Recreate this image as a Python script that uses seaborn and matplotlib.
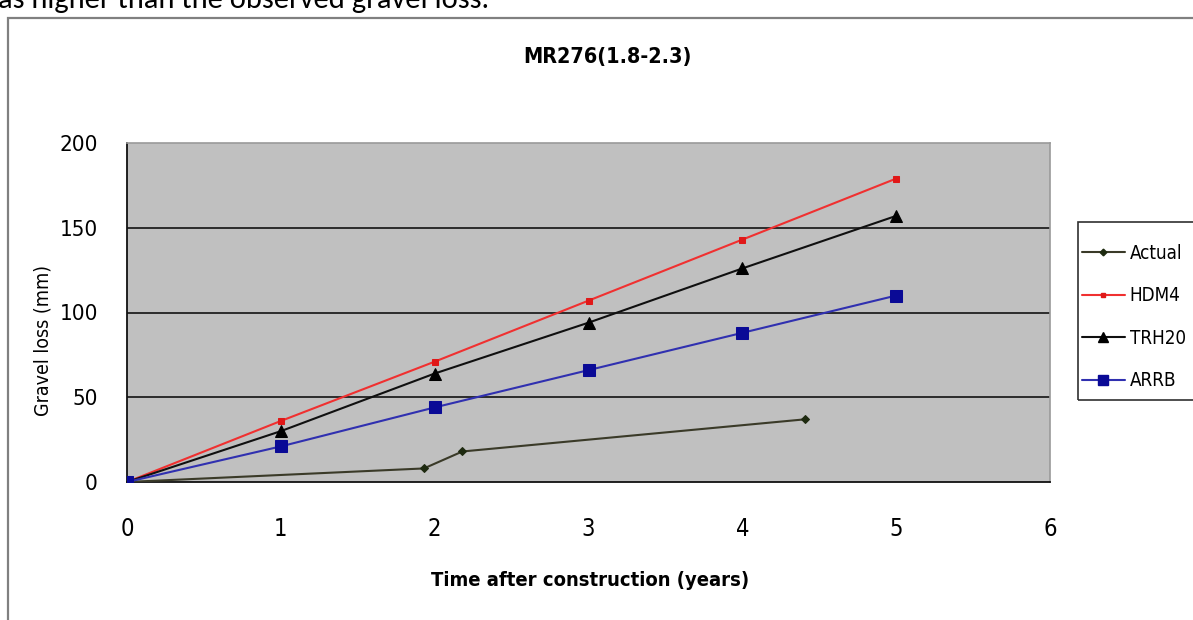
import matplotlib
matplotlib.use("Agg")
import matplotlib.pyplot as plt
from matplotlib.patches import Rectangle
from matplotlib.lines import Line2D
from matplotlib import font_manager
import seaborn as sns
import pandas as pd

# Gravel loss observations and model predictions
years_model = [0, 1, 2, 3, 4, 5]
hdm4 = [0, 36, 71, 107, 143, 179]
trh20 = [0, 30, 64, 94, 126, 157]
arrb = [0, 21, 44, 66, 88, 110]

years_actual = [0, 1.93, 2.18, 4.41]
actual = [0, 8, 18, 37]

title = "MR276(1.8-2.3)"
xlabel = "Time after construction (years)"
ylabel = "Gravel loss (mm)"
x_ticks = [0, 1, 2, 3, 4, 5, 6]
y_ticks = [0, 50, 100, 150, 200]
caption = "as higher than the observed gravel loss."

sns.set_theme(style="white")

# prefer a narrow sans face when one is available
narrow = None
for f in font_manager.fontManager.ttflist:
    if f.name in ("Liberation Sans Narrow", "Arial Narrow") or (
            f.name == "DejaVu Sans" and "Condensed" in f.fname and "Bold" not in f.fname
            and "Oblique" not in f.fname):
        narrow = f.name
        break
plt.rcParams["font.family"] = [narrow or "Liberation Sans", "DejaVu Sans"]
plt.rcParams["font.stretch"] = "condensed"
plt.rcParams["text.color"] = "#000000"
plt.rcParams["xtick.color"] = "#000000"
plt.rcParams["ytick.color"] = "#000000"

fig = plt.figure(figsize=(11.93, 6.20), dpi=100)
fig.patch.set_facecolor("white")

ax = fig.add_axes([127 / 1193, 1 - 482 / 620, (1050 - 127) / 1193, (482 - 143) / 620])
ax.set_facecolor("#c0c0c0")

# horizontal gridlines
for yv in [50, 100, 150]:
    ax.axhline(yv, color="#202020", lw=1.3, zorder=1)

series = [
    ("Actual", years_actual, actual, "#3a3a28", "D", 4, "#1e2a10"),
    ("HDM4", years_model, hdm4, "#f03030", "s", 4, "#e01818"),
    ("TRH20", years_model, trh20, "#101010", "^", 8, "#000000"),
    ("ARRB", years_model, arrb, "#3030b0", "s", 9, "#0a0a96"),
]

for name, xs, ys, lc, mk, ms, mc in series:
    df = pd.DataFrame({"x": xs, "y": ys})
    sns.lineplot(data=df, x="x", y="y", ax=ax, color=lc, lw=1.5, marker=mk,
                 markersize=ms, markerfacecolor=mc, markeredgecolor=mc,
                 zorder=3, legend=False)

ax.set_xlim(0, 6)
ax.set_ylim(0, 200)
ax.set_xticks(x_ticks)
ax.set_yticks(y_ticks)
ax.tick_params(axis="both", which="both", direction="out", length=5, width=1,
               color="#303030", labelsize=17, pad=20)
ax.tick_params(axis="y", labelsize=16, pad=16)
ax.set_xlabel("")
ax.set_ylabel("")

for side in ["left", "bottom"]:
    ax.spines[side].set_color("#101010")
    ax.spines[side].set_linewidth(1.3)
for side in ["top", "right"]:
    ax.spines[side].set_color("#9a9a9a")
    ax.spines[side].set_linewidth(1.2)

fig.text(607 / 1193, 1 - 57 / 620, title, ha="center", va="center",
         fontsize=15.5, fontweight="bold")
fig.text(590 / 1193, 1 - 580 / 620, xlabel, ha="center", va="center",
         fontsize=14.5, fontweight="bold")
fig.text(43 / 1193, 1 - 341 / 620, ylabel, ha="center", va="center",
         fontsize=14, rotation=90)

# caption line above the chart frame (partially cut off)
fig.text(-2 / 1193, 1 - 0 / 620, caption, ha="left", va="center",
         fontsize=22, family=["Carlito", "Lato", "DejaVu Sans"], stretch="normal")

# chart outer frame
fig.patches.append(Rectangle((8 / 1193, -0.1), 1.2, 1 - 18 / 620 + 0.1,
                             transform=fig.transFigure, fill=False,
                             edgecolor="#808080", lw=1.6))

# legend box, drawn separately so it can run past the right edge
fig.patches.append(Rectangle((1078 / 1193, 1 - 400 / 620), 0.2, (400 - 222) / 620,
                             transform=fig.transFigure, fill=False,
                             edgecolor="#303030", lw=1.2))

handles = [Line2D([0], [0], color=lc, lw=1.5, marker=mk,
                  markersize=ms * 0.85, markerfacecolor=mc, markeredgecolor=mc)
           for _, _, _, lc, mk, ms, mc in series]
labels = [s[0] for s in series]
leg = fig.legend(handles, labels, loc="upper left",
                 bbox_to_anchor=(1080 / 1193, 1 - 242 / 620),
                 frameon=False, fontsize=13.5, borderaxespad=0,
                 handlelength=2.3, handletextpad=0.25, labelspacing=1.25,
                 borderpad=0.1)

fig.savefig("out.png", dpi=100)
